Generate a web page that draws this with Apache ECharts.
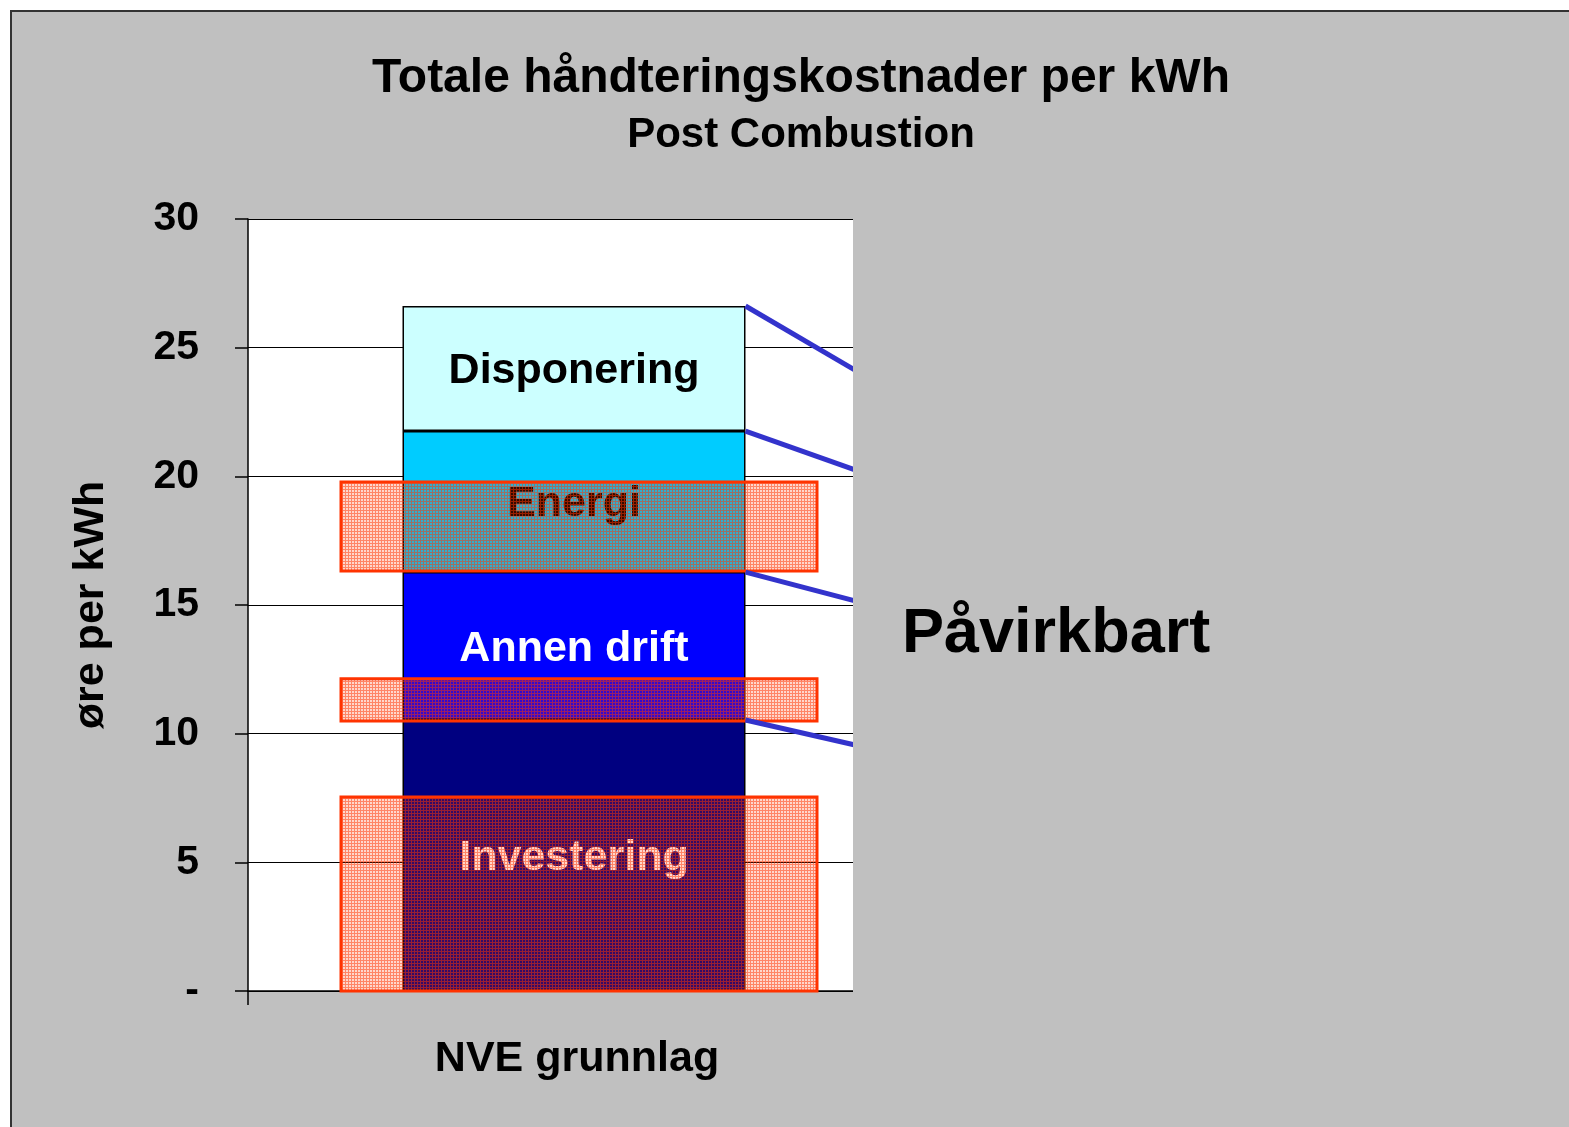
<!DOCTYPE html>
<html>
<head>
<meta charset="utf-8">
<script src="https://cdn.jsdelivr.net/npm/echarts@6/dist/echarts.min.js"></script>
<style>
  html, body { margin: 0; padding: 0; background: #fff; }
  #frame { position: absolute; left: 10px; top: 10px; width: 1600px; height: 1200px;
           background: #c0c0c0; border: 2px solid #333; }
  #chart { position: absolute; left: 0; top: 0; width: 1569px; height: 1127px; }
</style>
</head>
<body>
<div id="frame"></div>
<div id="chart"></div>
<script>
// chart data
var categories = ['NVE grunnlag'];
var segmentNames = ['Investering', 'Annen drift', 'Energi', 'Disponering'];
var segmentValues = [10.53, 5.75, 5.48, 4.86];
var segmentColors = ['#000080', '#0000ff', '#00ccff', '#ccffff'];
var labelColors = ['#fff', '#fff', '#000', '#000'];
// hatched ranges (low, high)
var rangeLows = [0, 10.49, 16.32];
var rangeHighs = [7.54, 12.13, 19.78];
// series lines: value where each line leaves the visible plot, bottom to top
var lineEnds = [9.56, 15.16, 20.25, 24.13];

var FONT = '"Liberation Sans", Arial, sans-serif';
var gridLeft = 248, gridRight = 900, barW = 343, boxW = 476, boxShift = 5, cutX = 853;

// red grid pattern for the hatched boxes
function makePattern() {
    var c = document.createElement('canvas');
    c.width = 3; c.height = 3;
    var ctx = c.getContext('2d');
    ctx.fillStyle = 'rgba(255,51,0,0.2)';
    ctx.fillRect(0, 0, 3, 3);
    ctx.fillStyle = 'rgba(255,51,0,0.5)';
    ctx.fillRect(0, 0, 3, 1);
    ctx.fillRect(0, 1, 1, 2);
    return c;
}
var pattern = { image: makePattern(), repeat: 'repeat' };

var barSeries = [];
for (var i = 0; i < segmentNames.length; i++) {
    barSeries.push({
        name: segmentNames[i],
        type: 'bar',
        stack: 'total',
        barWidth: barW,
        z: 2,
        data: [segmentValues[i]],
        itemStyle: { color: segmentColors[i], borderColor: '#000', borderWidth: 1.5 },
        label: {
            show: true, position: 'inside', offset: [0, 3], formatter: segmentNames[i],
            fontFamily: FONT, fontWeight: 'bold', fontSize: 43, color: labelColors[i]
        }
    });
}

var rangeData = [];
for (var i = 0; i < rangeLows.length; i++) rangeData.push([0, rangeLows[i], rangeHighs[i]]);

// lines from the top of each segment towards the right
var span = gridRight - gridLeft;
var x1 = 0.5 + barW / 2 / span;
var x2 = (cutX - gridLeft + 2) / span;
var linesData = [];
var cum = 0;
for (var i = 0; i < segmentValues.length; i++) {
    cum += segmentValues[i];
    linesData.push({ coords: [[x1, cum], [x2, lineEnds[i]]] });
}

var myChart = echarts.init(document.getElementById('chart'));
var option = {
    backgroundColor: 'transparent',
    animation: false,
    title: [{
        text: 'Totale håndteringskostnader per kWh',
        left: 796, top: 50, textAlign: 'center', z: 200,
        textStyle: { fontFamily: FONT, fontWeight: 'bold', fontSize: 48, color: '#000' }
    }, {
        text: 'Post Combustion',
        left: 796, top: 109, textAlign: 'center', z: 200,
        textStyle: { fontFamily: FONT, fontWeight: 'bold', fontSize: 42, color: '#000' }
    }, {
        text: 'Påvirkbart',
        left: 897, top: 598, z: 200,
        textStyle: { fontFamily: FONT, fontWeight: 'bold', fontSize: 63, color: '#000' }
    }],
    grid: {
        left: gridLeft, right: 1569 - gridRight, top: 219, bottom: 136,
        show: true, backgroundColor: '#fff', borderWidth: 0
    },
    xAxis: [{
        type: 'category',
        data: categories,
        axisLine: { lineStyle: { color: '#000', width: 1.5 } },
        axisTick: { show: true, length: 14, lineStyle: { color: '#000', width: 1.5 } },
        axisLabel: { margin: 47, padding: [0, 0, 0, 6], fontFamily: FONT, fontWeight: 'bold', fontSize: 43, color: '#000' }
    }, {
        type: 'value', min: 0, max: 1, show: false
    }],
    yAxis: {
        type: 'value', min: 0, max: 30, interval: 5,
        name: 'øre per kWh', nameLocation: 'middle', nameGap: 135, nameRotate: 90,
        nameTextStyle: { fontFamily: FONT, fontWeight: 'bold', fontSize: 43, color: '#000' },
        axisLine: { show: true, lineStyle: { color: '#000', width: 1.5 } },
        axisTick: { show: true, length: 13, lineStyle: { color: '#000', width: 1.5 } },
        splitLine: { lineStyle: { color: '#000', width: 1 } },
        axisLabel: {
            margin: 49, fontFamily: FONT, fontWeight: 'bold', fontSize: 41, color: '#000',
            formatter: function (v) { return v === 0 ? '-' : String(v); }
        }
    },
    series: barSeries.concat([{
        type: 'custom',
        name: 'ranges',
        z: 3,
        data: rangeData,
        encode: { x: 0, y: [1, 2] },
        renderItem: function (params, api) {
            var cx = api.coord([api.value(0), 0])[0];
            var top = api.coord([api.value(0), api.value(2)])[1];
            var bot = api.coord([api.value(0), api.value(1)])[1];
            return {
                type: 'rect',
                shape: { x: cx - boxW / 2 + boxShift, y: top, width: boxW, height: bot - top },
                style: { fill: pattern, stroke: '#ff3300', lineWidth: 3 }
            };
        }
    }, {
        type: 'lines',
        coordinateSystem: 'cartesian2d',
        xAxisIndex: 1,
        yAxisIndex: 0,
        z: 4,
        lineStyle: { color: '#3333cc', width: 5, opacity: 1 },
        data: linesData
    }]),
    graphic: [{
        type: 'rect',
        z: 100,
        shape: { x: cutX, y: 200, width: 55, height: 820 },
        style: { fill: '#c0c0c0' }
    }]
};
myChart.setOption(option);
</script>
</body>
</html>
